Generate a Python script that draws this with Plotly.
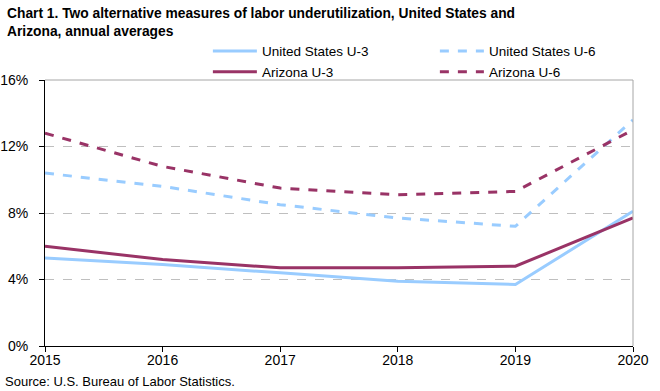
import plotly.graph_objects as go

years = [2015, 2016, 2017, 2018, 2019, 2020]
us_u3 = [5.3, 4.9, 4.4, 3.9, 3.7, 8.1]
us_u6 = [10.4, 9.6, 8.5, 7.7, 7.2, 13.6]
az_u3 = [6.0, 5.2, 4.7, 4.7, 4.8, 7.7]
az_u6 = [12.8, 10.8, 9.5, 9.1, 9.3, 13.0]
y_ticks = [0, 4, 8, 12, 16]
y_tick_labels = ["0%", "4%", "8%", "12%", "16%"]

blue = "#99CCFF"
maroon = "#993366"

fig = go.Figure()
fig.add_trace(go.Scatter(x=years, y=us_u3, mode="lines", name="United States U-3",
                         line=dict(color=blue, width=3)))
fig.add_trace(go.Scatter(x=years, y=us_u6, mode="lines", name="United States U-6",
                         line=dict(color=blue, width=3, dash="dash")))
fig.add_trace(go.Scatter(x=years, y=az_u3, mode="lines", name="Arizona U-3",
                         line=dict(color=maroon, width=3)))
fig.add_trace(go.Scatter(x=years, y=az_u6, mode="lines", name="Arizona U-6",
                         line=dict(color=maroon, width=3, dash="dash")))

fig.update_layout(
    width=660, height=391,
    margin=dict(l=45, r=27, t=80, b=45, autoexpand=False),
    paper_bgcolor="white", plot_bgcolor="white",
    font=dict(family="Arial, Liberation Sans, sans-serif", size=14, color="black"),
    showlegend=True,
    legend=dict(orientation="h", x=0.277, xanchor="left", y=1.166, yanchor="top",
                traceorder="normal", entrywidth=168, entrywidthmode="pixels",
                font=dict(size=13.5), bgcolor="rgba(0,0,0,0)", tracegroupgap=0,
                itemwidth=44),
    xaxis=dict(range=[2015, 2020], tickvals=years, ticks="outside", ticklen=5,
               tickcolor="black", showline=True, linecolor="black", linewidth=1,
               showgrid=False, zeroline=False, mirror=False, ticklabelstandoff=-4),
    yaxis=dict(range=[0, 16], tickvals=y_ticks, ticktext=y_tick_labels,
               ticks="outside", ticklen=5, tickcolor="black",
               showline=True, linecolor="black", linewidth=1,
               showgrid=True, gridcolor="#BFBFBF", griddash="dash", gridwidth=1,
               zeroline=False, ticklabelstandoff=8),
)
# grey top and right borders
fig.add_shape(type="line", xref="paper", yref="paper", x0=0, x1=1, y0=1, y1=1,
              line=dict(color="#A6A6A6", width=1))
fig.add_shape(type="line", xref="paper", yref="paper", x0=1, x1=1, y0=0, y1=1,
              line=dict(color="#A6A6A6", width=1))
fig.add_annotation(text="<b>Chart 1. Two alternative measures of labor underutilization, United States and<br>Arizona, annual averages</b>",
                   xref="paper", yref="paper", x=-0.068, y=1.286, xanchor="left", yanchor="top",
                   align="left", showarrow=False, font=dict(size=13.8, color="black"))
fig.add_annotation(text="Source: U.S. Bureau of Labor Statistics.", xref="paper", yref="paper",
                   x=-0.0714, y=-0.1316, xanchor="left", yanchor="middle", showarrow=False,
                   font=dict(size=13))
fig.write_html("out.html", post_script="document.body.style.margin='0';",
               config={"displayModeBar": False})
